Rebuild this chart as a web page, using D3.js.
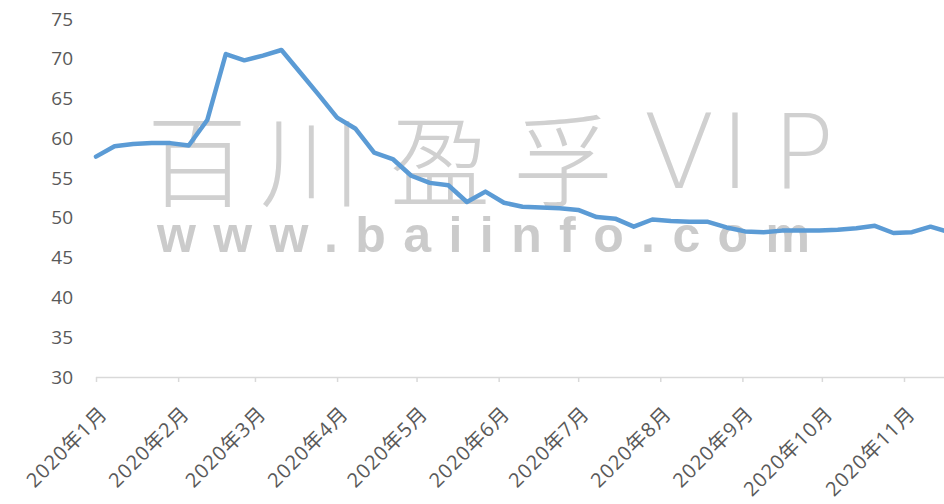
<!DOCTYPE html>
<html>
<head>
<meta charset="utf-8">
<script src="https://cdn.jsdelivr.net/npm/d3@7"></script>
<style>
  body { margin: 0; background: #fff; }
  svg { display: block; font-family: "Open Sans", "Noto Sans CJK SC", sans-serif; }
</style>
</head>
<body>
<div id="chartContainer"></div>
<script>

// weekly series, starting 2020-01-01
var startDate = "2020-01-01"
var values = [
    57.7, 59.0, 59.3, 59.4, 59.4, 59.1, 62.3, 70.6, 69.8, 70.4,
    71.1, 68.3, 65.5, 62.6, 61.2, 58.2, 57.4, 55.3, 54.4, 54.1,
    52.0, 53.3, 51.9, 51.4, 51.3, 51.2, 51.0, 50.1, 49.9, 48.9,
    49.8, 49.6, 49.5, 49.5, 48.8, 48.3, 48.2, 48.4, 48.4, 48.4,
    48.5, 48.7, 49.0, 48.1, 48.2, 48.9, 48.2
]
var yTicks = [30, 35, 40, 45, 50, 55, 60, 65, 70, 75]
var monthTicks = ["2020-01-01", "2020-02-01", "2020-03-01", "2020-04-01", "2020-05-01", "2020-06-01",
    "2020-07-01", "2020-08-01", "2020-09-01", "2020-10-01", "2020-11-01"]
var watermarkTitle = ["百", "川", "盈", "孚", "V", "I", "P"]
var watermarkSite = "www.baiinfo.com"

var dateParse = d3.timeParse("%Y-%m-%d")
var start = dateParse(startDate)
var data = values.map(function(v, i) {
    return { date: d3.timeDay.offset(start, i * 7), value: v }
})

var width = 944, height = 504

var chartSvg = d3.select('#chartContainer').append('svg')
    .attr('width', width)
    .attr('height', height)

var xScale = d3.scaleTime()
    .domain([dateParse("2020-01-01"), dateParse("2020-11-01")])
    .range([96, 904])

var yScale = d3.scaleLinear()
    .domain([30, 75])
    .range([377, 19])

// watermark
var wm = chartSvg.append('g').attr('class', 'watermark')
var titleX = [197, 310, 440, 563, 679, 735, 803]
wm.selectAll('.wmTitle')
    .data(watermarkTitle)
    .enter()
    .append('text')
    .attr('class', 'wmTitle')
    .attr('x', function(d, i) { return titleX[i] })
    .attr('y', function(d, i) { return i < 4 ? 199 : 188 })
    .attr('text-anchor', 'middle')
    .style('font-family', function(d, i) { return i < 4 ? '"Noto Sans CJK SC"' : '"DejaVu Sans"' })
    .style('font-weight', 300)
    .style('font-size', function(d, i) { return i < 4 ? '100px' : '104px' })
    .style('fill', '#d0d0d0')
    .text(function(d) { return d })

wm.append('text')
    .attr('class', 'wmSite')
    .attr('x', 157)
    .attr('y', 252)
    .attr('textLength', 653)
    .attr('lengthAdjust', 'spacing')
    .style('font-family', '"Liberation Sans", Arial, sans-serif')
    .style('font-weight', 'bold')
    .style('font-size', '50px')
    .style('fill', '#cbcbcb')
    .text(watermarkSite)

// y axis labels (no line)
var yAxis = chartSvg.append('g')
    .attr('class', 'yAxis')
    .attr("transform", "translate(" + 73 + "," + 0 + ")")
    .call(d3.axisLeft(yScale).tickValues(yTicks).tickSize(0).tickPadding(0))
yAxis.select('.domain').remove()
yAxis.selectAll('text')
    .style('font-size', '19px')
    .style('fill', '#595959')
    .style('font-family', '"Open Sans", sans-serif')

// x axis
var formatMonth = d3.timeFormat('%Y年%-m月')
var xAxis = chartSvg.append('g')
    .attr('class', 'xAxis')
    .attr("transform", "translate(" + 0 + "," + 377 + ")")
    .call(d3.axisBottom(xScale)
        .tickValues(monthTicks.map(dateParse))
        .tickFormat(formatMonth)
        .tickSize(5)
        .tickSizeOuter(0))
xAxis.select('.domain')
    .attr('d', 'M' + xScale.range()[0] + ',0.5H' + width)
    .style('stroke', '#d9d9d9')
    .style('stroke-width', 1.5)
xAxis.selectAll('.tick line')
    .style('stroke', '#d9d9d9')
    .style('stroke-width', 1.5)
xAxis.selectAll('.tick text')
    .attr('text-anchor', 'end')
    .attr('x', 0).attr('y', 0).attr('dy', 0)
    .attr('transform', 'translate(12,38) rotate(-45)')
    .style('font-size', '20px')
    .style('letter-spacing', '1px')
    .style('fill', '#595959')
    .style('font-family', '"Open Sans", "Noto Sans CJK SC", sans-serif')

// line
var line = d3.line()
    .x(function(d) { return xScale(d.date) })
    .y(function(d) { return yScale(d.value) })

chartSvg.append('path')
    .datum(data)
    .attr('d', line)
    .style('fill', 'none')
    .style('stroke', '#5b9bd5')
    .style('stroke-width', 4.5)
    .style('stroke-linejoin', 'round')
    .style('stroke-linecap', 'round')

</script>
</body>
</html>
